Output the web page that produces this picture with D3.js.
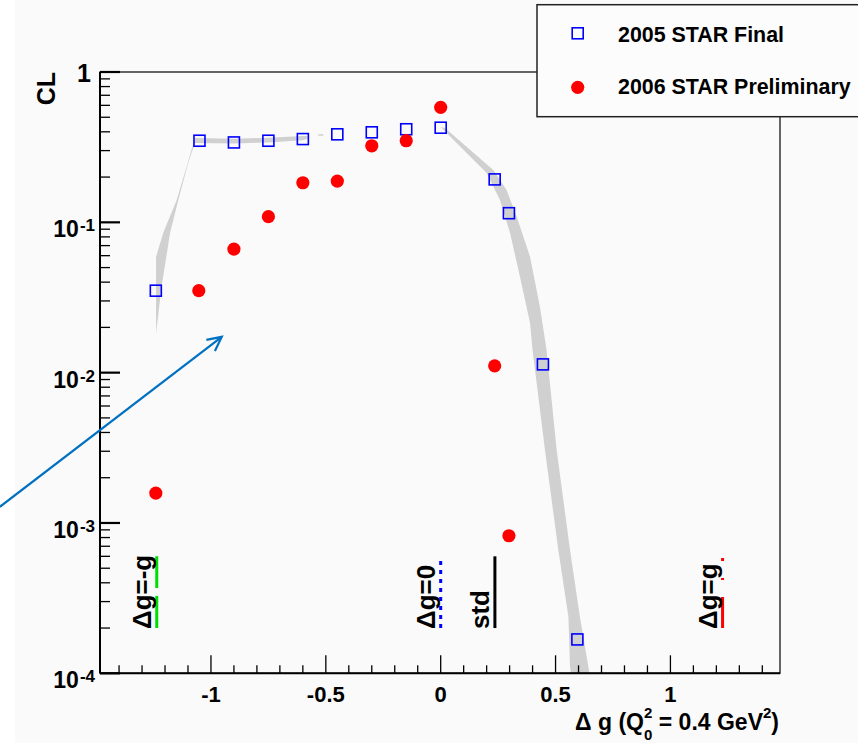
<!DOCTYPE html>
<html>
<head>
<meta charset="utf-8">
<script src="https://cdn.jsdelivr.net/npm/d3@7"></script>
<style>
  body { margin: 0; background: #ffffff; }
  text { font-family: "Liberation Sans", Arial, sans-serif; font-weight: bold; fill: #000; }
</style>
</head>
<body>
<div id="cl"></div>
<script>
// 2005 STAR Final (open squares)
var dg2005 = [-1.24, -1.05, -0.9, -0.75, -0.6, -0.45, -0.3, -0.15, 0, 0.235, 0.297, 0.445, 0.595];
var cl2005 = [0.0351, 0.349, 0.340, 0.349, 0.358, 0.385, 0.397, 0.416, 0.426, 0.193, 0.115, 0.01135, 1.68e-4];

// 2006 STAR Preliminary (full circles)
var dg2006 = [-1.24, -1.053, -0.9, -0.75, -0.6, -0.45, -0.3, -0.15, 0, 0.235, 0.297];
var cl2006 = [1.58e-3, 0.0351, 0.0664, 0.109, 0.1834, 0.188, 0.323, 0.349, 0.582, 0.0111, 8.22e-4];

// grey band around the 2005 curve, [dg, CL]
var bandLeftUpper = [[-1.239, 0.059], [-1.208, 0.0849], [-1.149, 0.141], [-1.106, 0.234], [-1.07, 0.364],
  [-0.9, 0.36], [-0.75, 0.365], [-0.6, 0.375], [-0.58, 0.375]];
var bandLeftLower = [[-1.239, 0.0183], [-1.215, 0.0373], [-1.178, 0.0849], [-1.142, 0.141], [-1.099, 0.248],
  [-1.07, 0.337], [-0.9, 0.335], [-0.75, 0.34], [-0.6, 0.352], [-0.58, 0.36]];
var bandRightUpper = [[0, 0.43], [0.019, 0.424], [0.229, 0.223], [0.287, 0.164], [0.331, 0.109], [0.389, 0.059],
  [0.432, 0.0274], [0.461, 0.0141], [0.505, 0.00305], [0.563, 6.6e-4], [0.606, 2.38e-4], [0.643, 1.1e-4], [0.648, 1e-4]];
var bandRightLower = [[0, 0.43], [0.2, 0.213], [0.258, 0.141], [0.302, 0.0849], [0.345, 0.0435], [0.389, 0.0214],
  [0.4, 0.0141], [0.454, 0.00305], [0.512, 6.6e-4], [0.556, 2.38e-4], [0.563, 1.1e-4], [0.567, 1e-4]];
var bandDash = [[-0.533, 0.381], [-0.511, 0.381]];

// reference scenarios drawn at the bottom
var refNames = ["\u0394g=-g", "\u0394g=0", "std", "\u0394g=g"];
var refValues = [-1.236, 0, 0.236, 1.227];
var refLow = 2.0e-4, refHigh = 6.0e-4;

// tick labels
var xTickValues = [-1, -0.5, 0, 0.5, 1];
var xTickLabels = ["-1", "-0.5", "0", "0.5", "1"];
var yTickExp = [0, -1, -2, -3, -4];

var legendNames = ["2005 STAR Final", "2006 STAR Preliminary"];

// arrow (annotation), [dg, CL]
var arrowFrom = [-1.919, 1.28e-3];
var arrowTo = [-0.953, 0.0173];

var width = 858, height = 743;
var frame = { left: 100, right: 780, top: 72, bottom: 673.3 };

var svg = d3.select("#cl")
  .append("svg")
  .attr("width", width)
  .attr("height", height);

// canvas background (white strip on the left)
svg.append("rect")
  .attr("x", 15).attr("y", 0)
  .attr("width", width - 15).attr("height", height)
  .attr("fill", "#fafafa");

var xScale = d3.scaleLinear()
  .domain([-1.483, 1.477])
  .range([frame.left, frame.right]);

var yScale = d3.scaleLog()
  .domain([1e-4, 1])
  .range([frame.bottom, frame.top]);

svg.append("clipPath").attr("id", "frameclip")
  .append("rect")
  .attr("x", frame.left).attr("y", frame.top)
  .attr("width", frame.right - frame.left).attr("height", frame.bottom - frame.top);

var plot = svg.append("g").attr("clip-path", "url(#frameclip)");

// grey bands
var bandLine = d3.line()
  .x(function(d) { return xScale(d[0]); })
  .y(function(d) { return yScale(d[1]); });

function bandPath(upper, lower) {
  return bandLine(upper.concat(lower.slice().reverse())) + "Z";
}

plot.append("path")
  .attr("d", bandPath(bandLeftUpper, bandLeftLower))
  .attr("fill", "#d0d0d0");

plot.append("path")
  .attr("d", bandPath(bandRightUpper, bandRightLower))
  .attr("fill", "#d0d0d0");

plot.append("path")
  .attr("d", bandLine(bandDash))
  .attr("stroke", "#d0d0d0")
  .attr("stroke-width", 1.5)
  .attr("fill", "none");

// frame
svg.append("rect")
  .attr("x", frame.left).attr("y", frame.top)
  .attr("width", frame.right - frame.left).attr("height", frame.bottom - frame.top)
  .attr("fill", "none")
  .attr("stroke", "#000")
  .attr("stroke-width", 1.2);

// x ticks (inside), minor every 0.1
var xTicks = d3.range(-14, 15).map(function(i) { return { v: i / 10, major: i % 5 === 0 }; });
svg.append("g").selectAll("line")
  .data(xTicks)
  .enter().append("line")
  .attr("x1", function(d) { return xScale(d.v); })
  .attr("x2", function(d) { return xScale(d.v); })
  .attr("y1", frame.bottom)
  .attr("y2", function(d) { return frame.bottom - (d.major ? 18 : 8); })
  .attr("stroke", "#000")
  .attr("stroke-width", 1.3);

// y ticks (log, inside)
var yTicks = [];
for (var e = -4; e < 0; e++) {
  for (var m = 1; m < 10; m++) {
    yTicks.push({ v: m * Math.pow(10, e), major: m === 1 });
  }
}
yTicks.push({ v: 1, major: true });

svg.append("g").selectAll("line")
  .data(yTicks)
  .enter().append("line")
  .attr("x1", frame.left)
  .attr("x2", function(d) { return frame.left + (d.major ? 20 : 10); })
  .attr("y1", function(d) { return yScale(d.v); })
  .attr("y2", function(d) { return yScale(d.v); })
  .attr("stroke", "#000")
  .attr("stroke-width", function(d) { return d.major ? 2.2 : 1.3; });

// axis lines
svg.append("line")
  .attr("x1", frame.left).attr("x2", frame.left)
  .attr("y1", frame.top).attr("y2", frame.bottom)
  .attr("stroke", "#000").attr("stroke-width", 2);
svg.append("line")
  .attr("x1", frame.left).attr("x2", frame.right)
  .attr("y1", frame.bottom).attr("y2", frame.bottom)
  .attr("stroke", "#000").attr("stroke-width", 2);

// x tick labels
svg.append("g").selectAll("text")
  .data(xTickValues)
  .enter().append("text")
  .attr("x", function(d) { return xScale(d); })
  .attr("y", frame.bottom + 29)
  .attr("text-anchor", "middle")
  .style("font-size", "22px")
  .text(function(d, i) { return xTickLabels[i]; });

// y tick labels 1, 10^-1 ...
var yLab = svg.append("g").selectAll("text")
  .data(yTickExp)
  .enter().append("text")
  .attr("x", function(d) { return d === 0 ? 91 : 95; })
  .attr("y", function(d) { return yScale(Math.pow(10, d)) + (d === 0 ? 10 : 15); })
  .attr("text-anchor", "end")
  .style("font-size", function(d) { return d === 0 ? "25px" : "23px"; });

yLab.each(function(d) {
  var t = d3.select(this);
  if (d === 0) {
    t.text("1");
  } else {
    t.append("tspan").text("10");
    t.append("tspan").attr("dy", -6).attr("dx", 1).style("font-size", "17px").text(String(d));
  }
});

// axis titles
svg.append("text")
  .attr("transform", "translate(55," + frame.top + ") rotate(-90)")
  .attr("text-anchor", "end")
  .style("font-size", "25px")
  .text("CL");

var xTitle = svg.append("text")
  .attr("x", 779)
  .attr("y", 730)
  .attr("text-anchor", "end")
  .style("font-size", "23px");
xTitle.append("tspan").text("\u0394 g (Q");
xTitle.append("tspan").attr("dy", 10).style("font-size", "15px").text("0");
xTitle.append("tspan").attr("dx", -8.3).attr("dy", -22).style("font-size", "15px").text("2");
xTitle.append("tspan").attr("dy", 12).text(" = 0.4 GeV");
xTitle.append("tspan").attr("dy", -12).style("font-size", "15px").text("2");
xTitle.append("tspan").attr("dy", 12).text(")");

// reference lines at the bottom
var refGroup = svg.append("g");
var refColors = ["#00e000", "#0000ff", "#000000", "#ff0000"];
var refDash = ["32,8,40", "4,5", null, "31,17,2,17,3"];

refGroup.selectAll("line")
  .data(refValues)
  .enter().append("line")
  .attr("x1", function(d) { return xScale(d); })
  .attr("x2", function(d) { return xScale(d); })
  .attr("y1", yScale(refLow))
  .attr("y2", yScale(refHigh))
  .attr("stroke", function(d, i) { return refColors[i]; })
  .attr("stroke-width", 3)
  .attr("stroke-dasharray", function(d, i) { return refDash[i]; });

refGroup.selectAll("text")
  .data(refValues)
  .enter().append("text")
  .attr("transform", function(d) {
    return "translate(" + (xScale(d) - 5.5) + "," + (yScale(refLow) + 1) + ") rotate(-90)";
  })
  .style("font-size", "26px")
  .text(function(d, i) { return refNames[i]; });

// 2005 squares
var pts2005 = dg2005.map(function(d, i) { return { x: d, y: cl2005[i] }; });
var pts2006 = dg2006.map(function(d, i) { return { x: d, y: cl2006[i] }; });

svg.append("g").selectAll("rect")
  .data(pts2005)
  .enter().append("rect")
  .attr("x", function(d) { return xScale(d.x) - 5.5; })
  .attr("y", function(d) { return yScale(d.y) - 5.5; })
  .attr("width", 11)
  .attr("height", 11)
  .attr("fill", "none")
  .attr("stroke", "#0000ff")
  .attr("stroke-width", 1.6);

// 2006 dots
svg.append("g").selectAll("circle")
  .data(pts2006)
  .enter().append("circle")
  .attr("cx", function(d) { return xScale(d.x); })
  .attr("cy", function(d) { return yScale(d.y); })
  .attr("r", 6.6)
  .attr("fill", "#ff0000");

// legend
var legend = svg.append("g");
legend.append("rect")
  .attr("x", 537).attr("y", 4.7)
  .attr("width", 340).attr("height", 112)
  .attr("fill", "#fcfcfc")
  .attr("stroke", "#222")
  .attr("stroke-width", 1.5);

legend.append("rect")
  .attr("x", 577.7 - 5.5).attr("y", 33.3 - 5.5)
  .attr("width", 11).attr("height", 11)
  .attr("fill", "none")
  .attr("stroke", "#0000ff")
  .attr("stroke-width", 1.6);

legend.append("circle")
  .attr("cx", 577.7).attr("cy", 87.3)
  .attr("r", 6.6)
  .attr("fill", "#ff0000");

legend.selectAll("text.leg")
  .data(legendNames)
  .enter().append("text")
  .attr("class", "leg")
  .attr("x", 618)
  .attr("y", function(d, i) { return i === 0 ? 41.5 : 93.5; })
  .style("font-size", "21.4px")
  .text(function(d) { return d; });

// arrow
svg.append("defs").append("marker")
  .attr("id", "arrowhead")
  .attr("markerUnits", "userSpaceOnUse")
  .attr("markerWidth", 30).attr("markerHeight", 30)
  .attr("refX", 0).attr("refY", 0)
  .attr("viewBox", "-20 -15 30 30")
  .attr("orient", "auto")
  .append("path")
  .attr("d", "M-14,-7L0,0L-14,7")
  .attr("fill", "none")
  .attr("stroke", "#0070c0")
  .attr("stroke-width", 2.2);

svg.append("line")
  .attr("x1", xScale(arrowFrom[0])).attr("y1", yScale(arrowFrom[1]))
  .attr("x2", xScale(arrowTo[0])).attr("y2", yScale(arrowTo[1]))
  .attr("stroke", "#0070c0")
  .attr("stroke-width", 2.2)
  .attr("marker-end", "url(#arrowhead)");
</script>
</body>
</html>
